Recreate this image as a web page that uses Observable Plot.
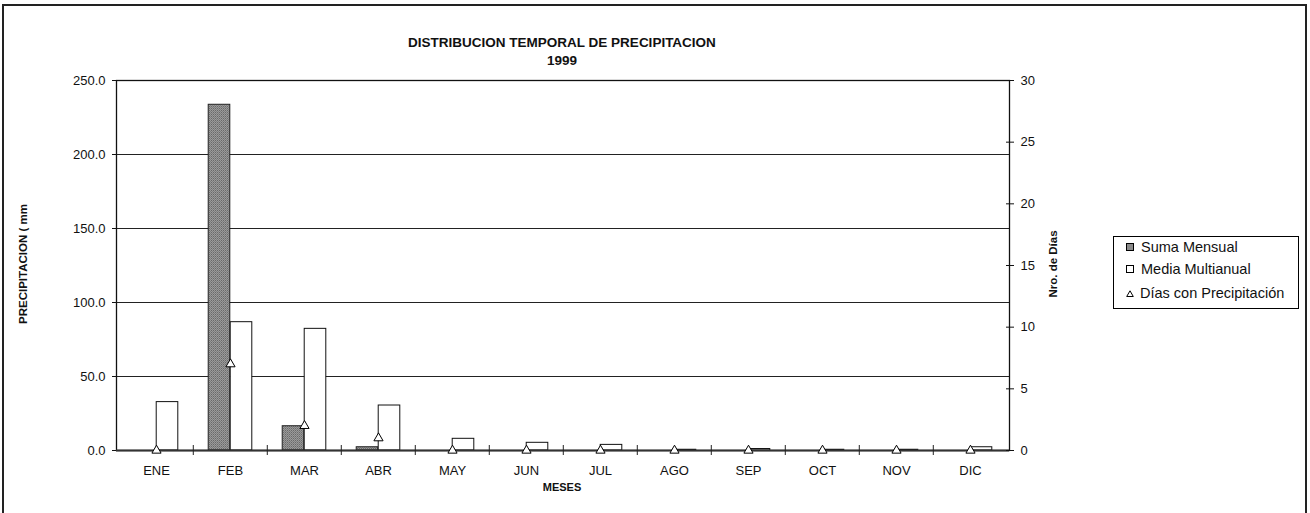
<!DOCTYPE html>
<html>
<head>
<meta charset="utf-8">
<script src="https://cdn.jsdelivr.net/npm/d3@7"></script>
<script src="https://cdn.jsdelivr.net/npm/@observablehq/plot@0.6"></script>
<style>
  html, body { margin: 0; padding: 0; background: #fff; }
  body { width: 1310px; height: 513px; position: relative; overflow: hidden; font-family: "Liberation Sans", Arial, sans-serif; color: #111; }
  #frame { position: absolute; left: 2px; top: 4px; width: 1301px; height: 530px; border: 2px solid #222; }
  .abs { position: absolute; white-space: nowrap; }
  #title { left: 0; width: 1124px; top: 34px; text-align: center; font-weight: bold; font-size: 13.5px; line-height: 18px; }
  #ylab { left: 23px; top: 264px; font-weight: bold; font-size: 11.5px; transform: translate(-50%, -50%) rotate(-90deg); }
  #y2lab { left: 1053px; top: 264px; font-weight: bold; font-size: 11.5px; transform: translate(-50%, -50%) rotate(-90deg); }
  #xlab { left: 562px; top: 487px; font-weight: bold; font-size: 11px; transform: translate(-50%, -50%); }
  #legend { left: 1113px; top: 236px; width: 184px; height: 71px; border: 1px solid #000; font-size: 14.5px; }
  .item { position: absolute; left: 12px; display: flex; align-items: center; }
  .sw { width: 6px; height: 6px; border: 1px solid #000; margin-right: 7px; }
  #chart { position: absolute; left: 0; top: 0; }
</style>
</head>
<body>
<div id="frame"></div>
<div id="title" class="abs">DISTRIBUCION TEMPORAL DE PRECIPITACION<br>1999</div>
<div id="chart"></div>
<div id="ylab" class="abs">PRECIPITACION ( mm</div>
<div id="y2lab" class="abs">Nro. de Días</div>
<div id="xlab" class="abs">MESES</div>
<div id="legend" class="abs">
  <div class="item" style="top:2px"><div class="sw" style="background:#8a8a8a"></div>Suma Mensual</div>
  <div class="item" style="top:24px"><div class="sw" style="background:#fff"></div>Media Multianual</div>
  <div class="item" style="top:48px"><svg width="8" height="7" style="margin-right:6px"><path d="M4,0.8 L7.3,6.5 L0.7,6.5 Z" fill="#fff" stroke="#000" stroke-width="1"/></svg>Días con Precipitación</div>
</div>
<script>
// ---- data ----
const meses = ["ENE","FEB","MAR","ABR","MAY","JUN","JUL","AGO","SEP","OCT","NOV","DIC"];
const sumaMensual = [0, 233.6, 16.4, 2.2, 0, 0, 0, 0, 0, 0, 0, 0];
const mediaMultianual = [32.7, 86.7, 82.2, 30.4, 7.9, 5.2, 3.8, 0.5, 1.0, 0.5, 0.5, 2.2];
const diasPrecip = [0, 7, 2, 1, 0, 0, 0, 0, 0, 0, 0, 0];
const yTicks = [0, 50, 100, 150, 200, 250];
const diasTicks = [0, 5, 10, 15, 20, 25, 30];
const yMax = 250, diasMax = 30;

const data = meses.map((m, i) => ({mes: m, suma: sumaMensual[i], media: mediaMultianual[i], dias: diasPrecip[i]}));
const toMM = d => d * yMax / diasMax;

const W = 1310, H = 513, mL = 116, mR = 301, mT = 80, mB = 63;
const bw = (W - mL - mR) / meses.length;
const barW = 22;
const inset = (bw - barW) / 2;
const font = "Liberation Sans, Arial, sans-serif";

const plot = Plot.plot({
  width: W, height: H,
  marginLeft: mL, marginRight: mR, marginTop: mT, marginBottom: mB,
  style: {fontFamily: font, fontSize: "13px", color: "#111", background: "transparent"},
  x: {domain: meses, paddingInner: 0, paddingOuter: 0, label: null},
  y: {domain: [0, yMax], label: null},
  marks: [
    Plot.ruleY([50, 100, 150, 200], {stroke: "#222", strokeWidth: 1}),
    Plot.barY(data.filter(d => d.suma > 0), {x: "mes", y: "suma", fill: "url(#stipple)", stroke: "#222", strokeWidth: 1, insetLeft: inset, insetRight: inset, dx: -barW / 2}),
    Plot.barY(data.filter(d => d.media > 0), {x: "mes", y: "media", fill: "#fff", stroke: "#111", strokeWidth: 1, insetLeft: inset, insetRight: inset, dx: barW / 2}),
    Plot.frame({stroke: "#111", strokeWidth: 1.3}),
    Plot.ruleY([0], {stroke: "#333", strokeWidth: 2}),
    Plot.ruleX(meses.slice(1), {x: d => d, y1: 0, y2: 0, dx: -bw / 2, insetTop: -5, insetBottom: -5, stroke: "#222"}),
    Plot.dot(data, {x: "mes", y: d => toMM(d.dias), symbol: "triangle", r: 3.4, stroke: "#000", fill: "#fff", strokeWidth: 1}),
    Plot.axisY({ticks: yTicks, tickFormat: d => d.toFixed(1), tickSize: 4, tickPadding: 7, label: null, fontSize: 13, stroke: "#111"}),
    Plot.axisY({anchor: "right", ticks: diasTicks.map(toMM), tickFormat: () => "", tickSize: 4, dx: -4, label: null, stroke: "#111"}),
    Plot.axisY({anchor: "right", ticks: diasTicks.map(toMM), tickFormat: d => String(Math.round(d * diasMax / yMax)), tickSize: 4, tickPadding: 7, label: null, fontSize: 13, stroke: "#111"}),
    Plot.axisX({tickSize: 0, tickPadding: 15, label: null, fontSize: 13})
  ]
});

// stipple pattern for "Suma Mensual" bars
const ns = "http://www.w3.org/2000/svg";
const defs = document.createElementNS(ns, "defs");
defs.innerHTML = '<pattern id="stipple" width="2" height="2" patternUnits="userSpaceOnUse">' +
  '<rect width="2" height="2" fill="#9a9a9a"/><rect width="1" height="1" fill="#6a6a6a"/><rect x="1" y="1" width="1" height="1" fill="#7e7e7e"/></pattern>';
plot.insertBefore(defs, plot.firstChild);
document.getElementById("chart").appendChild(plot);
</script>
</body>
</html>
